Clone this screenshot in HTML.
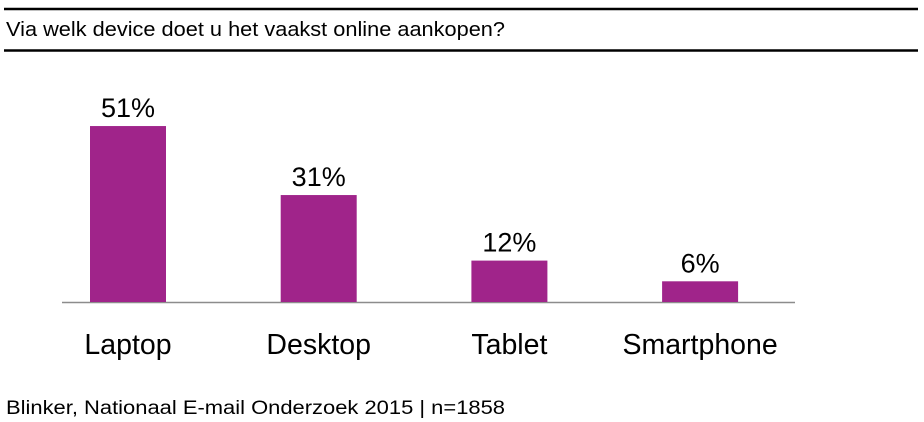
<!DOCTYPE html>
<html><head><meta charset="utf-8"><style>
body{margin:0;background:#fff;}
svg{display:block;font-family:"Liberation Sans",sans-serif;}
</style></head><body>
<svg width="924" height="422">
<line x1="4" y1="9" x2="918" y2="9" stroke="#000" stroke-width="2.5"/>
<text x="6" y="36" font-size="20" textLength="499" lengthAdjust="spacingAndGlyphs" fill="#000">Via welk device doet u het vaakst online aankopen?</text>
<line x1="4" y1="50.5" x2="918" y2="50.5" stroke="#000" stroke-width="2.5"/>
<line x1="62" y1="302.5" x2="795" y2="302.5" stroke="#8c8c8c" stroke-width="1.6"/>
<g id="bars"></g>
<text x="6" y="414" font-size="19" textLength="499" lengthAdjust="spacingAndGlyphs" fill="#000">Blinker, Nationaal E-mail Onderzoek 2015 | n=1858</text>
</svg>
<script>
const categories = ["Laptop", "Desktop", "Tablet", "Smartphone"];
const values = [51, 31, 12, 6];
const valueLabels = ["51%", "31%", "12%", "6%"];
const baseY = 302, pxPerUnit = 3.45, barW = 76;
function xCenter(i){ return 128 + i * 190.7; }
function yPos(v){ return baseY - v * pxPerUnit; }
const g = document.getElementById('bars');
const NS = "http://www.w3.org/2000/svg";
categories.forEach((c, i) => {
  const r = document.createElementNS(NS, 'rect');
  r.setAttribute('x', xCenter(i) - barW / 2);
  r.setAttribute('y', yPos(values[i]));
  r.setAttribute('width', barW);
  r.setAttribute('height', baseY - yPos(values[i]));
  r.setAttribute('fill', '#a0248a');
  
  
  g.appendChild(r);
  const t = document.createElementNS(NS, 'text');
  t.setAttribute('x', xCenter(i));
  t.setAttribute('y', yPos(values[i]) - 9);
  t.setAttribute('text-anchor', 'middle');
  t.setAttribute('font-size', '27');
  t.textContent = valueLabels[i];
  
  
  g.appendChild(t);
  const l = document.createElementNS(NS, 'text');
  l.setAttribute('x', xCenter(i));
  l.setAttribute('y', 354);
  l.setAttribute('text-anchor', 'middle');
  l.setAttribute('font-size', '28.5');
  l.textContent = c;
  
  
  g.appendChild(l);
});
</script>
</body></html>
